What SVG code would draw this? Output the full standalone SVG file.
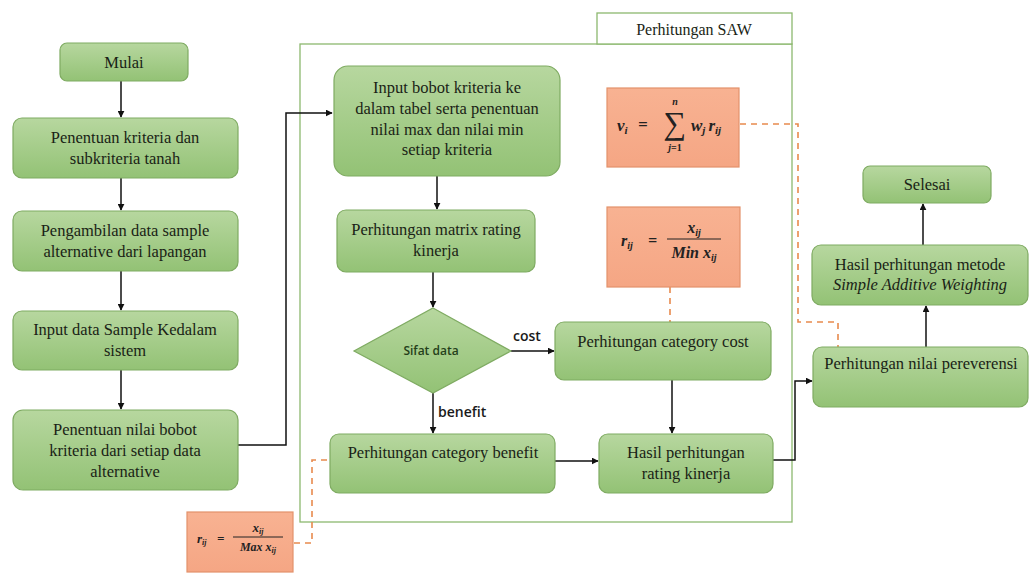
<svg xmlns="http://www.w3.org/2000/svg" width="1030" height="574" viewBox="0 0 1030 574">
<defs>
<linearGradient id="g" x1="0" y1="0" x2="0" y2="1">
<stop offset="0" stop-color="#b7d79f"/>
<stop offset="1" stop-color="#93c275"/>
</linearGradient>
<linearGradient id="o" x1="0" y1="0" x2="0" y2="1">
<stop offset="0" stop-color="#f8b292"/>
<stop offset="1" stop-color="#f5a684"/>
</linearGradient>
<marker id="a" viewBox="0 0 10 10" refX="9" refY="5" markerWidth="7" markerHeight="7" orient="auto" markerUnits="userSpaceOnUse">
<path d="M0,0 L10,5 L0,10 z" fill="#111"/>
</marker>
</defs>
<style>
.n{fill:url(#g);stroke:#7fab62;stroke-width:1.2}
.f{fill:url(#o);stroke:#e3926b;stroke-width:1.2}
.t{font-family:"Liberation Serif","Times New Roman",serif;font-size:16.5px;fill:#1a1f16;text-anchor:middle}
.s{font-family:"Open Sans","Liberation Sans",sans-serif;fill:#1a1a1a;font-weight:600}
.m{font-family:"Liberation Serif","Times New Roman",serif;font-style:italic;font-weight:bold;fill:#222}
.u{font-style:normal}
.c{fill:none;stroke:#111;stroke-width:1.5}
.d{fill:none;stroke:#e88a4e;stroke-width:1.6;stroke-dasharray:6,5}
.box{fill:#fff;stroke:#8db86f;stroke-width:1.3}
</style>
<rect width="1030" height="574" fill="#fff"/>

<g id="container">
<rect class="box" x="300" y="44" width="492" height="478"/>
<rect class="box" x="597" y="13" width="195" height="31"/>
<text class="t" x="694" y="35" style="font-size:16px">Perhitungan SAW</text>
</g>

<g id="connectors">
<path class="c" d="M121,81 V117" marker-end="url(#a)"/>
<path class="c" d="M121,178 V210" marker-end="url(#a)"/>
<path class="c" d="M121,271 V310" marker-end="url(#a)"/>
<path class="c" d="M121,370 V409" marker-end="url(#a)"/>
<path class="c" d="M238,445 H286 V113 H332" marker-end="url(#a)"/>
<path class="c" d="M437,176 V209" marker-end="url(#a)"/>
<path class="c" d="M433,272 V307" marker-end="url(#a)"/>
<path class="c" d="M511,351 H554" marker-end="url(#a)"/>
<path class="c" d="M433,393 V433" marker-end="url(#a)"/>
<path class="c" d="M672,380 V433" marker-end="url(#a)"/>
<path class="c" d="M555,461 H598" marker-end="url(#a)"/>
<path class="c" d="M773,460 H795 V381 H812" marker-end="url(#a)"/>
<path class="c" d="M926,347 V306" marker-end="url(#a)"/>
<path class="c" d="M923,245 V204" marker-end="url(#a)"/>
<path class="d" d="M740,124 H798 V322 H838 V347"/>
<path class="d" d="M670,287 V322"/>
<path class="d" d="M294,543 H312 V460 H330"/>
<text class="s" x="513" y="341" style="font-size:14px">cost</text>
<text class="s" x="438" y="417" style="font-size:14px">benefit</text>
</g>

<g id="mulai">
<rect class="n" x="60" y="43" width="128" height="38" rx="7"/>
<text class="t" x="124" y="68">Mulai</text>
</g>
<g id="kriteria">
<rect class="n" x="13" y="118" width="225" height="60" rx="9"/>
<text class="t" x="125" y="143">Penentuan kriteria dan</text>
<text class="t" x="125" y="164">subkriteria tanah</text>
</g>
<g id="pengambilan">
<rect class="n" x="13" y="211" width="225" height="60" rx="9"/>
<text class="t" x="125" y="236">Pengambilan data sample</text>
<text class="t" x="125" y="257">alternative dari lapangan</text>
</g>
<g id="inputdata">
<rect class="n" x="13" y="311" width="225" height="59" rx="9"/>
<text class="t" x="125" y="335">Input data Sample Kedalam</text>
<text class="t" x="125" y="356">sistem</text>
</g>
<g id="bobot">
<rect class="n" x="13" y="410" width="225" height="80" rx="10"/>
<text class="t" x="125" y="435">Penentuan nilai bobot</text>
<text class="t" x="125" y="456">kriteria dari setiap data</text>
<text class="t" x="125" y="477">alternative</text>
</g>

<g id="inputbobot">
<rect class="n" x="334" y="66" width="226" height="110" rx="14"/>
<text class="t" x="447" y="93">Input bobot kriteria ke</text>
<text class="t" x="447" y="114">dalam tabel serta penentuan</text>
<text class="t" x="447" y="135">nilai max dan nilai min</text>
<text class="t" x="447" y="155">setiap kriteria</text>
</g>
<g id="matrix">
<rect class="n" x="337" y="210" width="198" height="62" rx="9"/>
<text class="t" x="436" y="235">Perhitungan matrix rating</text>
<text class="t" x="436" y="256">kinerja</text>
</g>
<g id="sifat">
<polygon class="n" points="433,308 511,351 433,393 354,351"/>
<text class="s" x="431" y="355" style="font-size:12px;text-anchor:middle;fill:#24401a">Sifat data</text>
</g>
<g id="cost">
<rect class="n" x="555" y="322" width="216" height="58" rx="9"/>
<text class="t" x="663" y="347">Perhitungan category cost</text>
</g>
<g id="benefit">
<rect class="n" x="330" y="434" width="225" height="59" rx="9"/>
<text class="t" x="443" y="458">Perhitungan category benefit</text>
</g>
<g id="hasilrating">
<rect class="n" x="599" y="434" width="174" height="59" rx="9"/>
<text class="t" x="686" y="458">Hasil perhitungan</text>
<text class="t" x="686" y="479">rating kinerja</text>
</g>

<g id="pereverensi">
<rect class="n" x="813" y="347" width="215" height="60" rx="9"/>
<text class="t" x="921" y="369">Perhitungan nilai pereverensi</text>
</g>
<g id="hasilsaw">
<rect class="n" x="812" y="245" width="216" height="60" rx="9"/>
<text class="t" x="920" y="270">Hasil perhitungan metode</text>
<text class="t" x="920" y="290" style="font-style:italic">Simple Additive Weighting</text>
</g>
<g id="selesai">
<rect class="n" x="863" y="166" width="128" height="37" rx="7"/>
<text class="t" x="927" y="190">Selesai</text>
</g>

<g id="formula-v">
<rect class="f" x="607" y="88" width="132" height="79"/>
<text class="m" x="617" y="131" style="font-size:17px">v<tspan dy="3" style="font-size:11px">i</tspan></text>
<text class="m" x="638" y="130" style="font-size:17px">=</text>
<text class="m u" x="675" y="134" style="font-size:32px;text-anchor:middle;font-weight:normal">∑</text>
<text class="m" x="675" y="105" style="font-size:10px;text-anchor:middle">n</text>
<text class="m" x="675" y="151" style="font-size:10px;text-anchor:middle">j<tspan class="u">=1</tspan></text>
<text class="m" x="691" y="131" style="font-size:17px">w<tspan dy="3" style="font-size:11px">j</tspan><tspan dy="-3" dx="3">r</tspan><tspan dy="3" style="font-size:11px">ij</tspan></text>
</g>
<g id="formula-min">
<rect class="f" x="607" y="207" width="133" height="80"/>
<text class="m" x="621" y="246" style="font-size:16px">r<tspan dy="3" style="font-size:10px">ij</tspan></text>
<text class="m" x="648" y="246" style="font-size:16px">=</text>
<text class="m" x="694" y="233" style="font-size:16px;text-anchor:middle">x<tspan dy="3" style="font-size:10px">ij</tspan></text>
<line x1="667" y1="239" x2="721" y2="239" stroke="#222" stroke-width="1.2"/>
<text class="m" x="694" y="258" style="font-size:16px;text-anchor:middle">Min x<tspan dy="3" style="font-size:10px">ij</tspan></text>
</g>
<g id="formula-max">
<rect class="f" x="187" y="512" width="106" height="60"/>
<text class="m" x="197" y="543" style="font-size:13px">r<tspan dy="2" style="font-size:8px">ij</tspan></text>
<text class="m" x="217" y="543" style="font-size:13px">=</text>
<text class="m" x="258" y="532" style="font-size:13px;text-anchor:middle">x<tspan dy="2" style="font-size:8px">ij</tspan></text>
<line x1="233" y1="537" x2="283" y2="537" stroke="#222" stroke-width="1"/>
<text class="m" x="258" y="551" style="font-size:12px;text-anchor:middle">Max x<tspan dy="2" style="font-size:8px">ij</tspan></text>
</g>
</svg>
